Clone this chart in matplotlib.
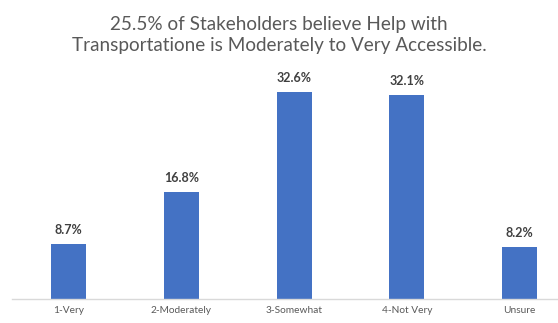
import matplotlib.pyplot as plt

categories = ['1-Very', '2-Moderately', '3-Somewhat', '4-Not Very', 'Unsure']
percents = [8.7, 16.8, 32.6, 32.1, 8.2]
title = '25.5% of Stakeholders believe Help with\nTransportatione is Moderately to Very Accessible.'

plt.rcParams['font.family'] = ['Lato', 'DejaVu Sans']

W, H = 558, 323
fig = plt.figure(figsize=(W / 100, H / 100), dpi=100)

# axes placed in pixel terms: baseline at y=299, left edge at x=12
left, bottom, top = 12, 24, 263
ax = fig.add_axes([left / W, bottom / H, (W - left) / W, top / H - bottom / H])

step = 112.8
ax.bar(range(len(categories)), percents, width=35 / step, color='#4472C4')
ax.set_xlim(-0.5, (W - left) / step - 0.5)
ax.set_ylim(0, (top - bottom) / 6.34)

for i, v in enumerate(percents):
    ax.text(i, v + 1.3, f'{v}%', ha='center', va='bottom',
            fontsize=9, fontweight='bold', color='#404040')

ax.set_xticks(range(len(categories)))
ax.set_xticklabels(categories, fontsize=7.3, color='#595959')
ax.tick_params(axis='x', length=0, pad=5)
ax.set_yticks([])
for s in ['top', 'right', 'left']:
    ax.spines[s].set_visible(False)
ax.spines['bottom'].set_color('#D9D9D9')
ax.spines['bottom'].set_linewidth(1)

fig.text(0.5, 1 - 35 / H, title, ha='center', va='center', fontsize=13.6,
         color='#595959', linespacing=1.3)

fig.savefig('out.png', dpi=100)
